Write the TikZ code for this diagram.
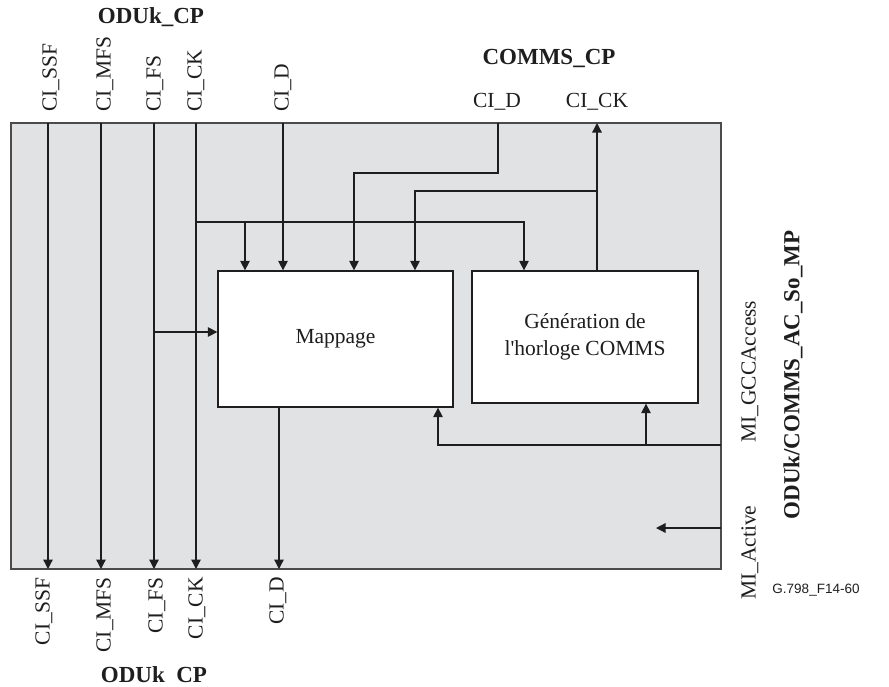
\documentclass[tikz,border=0pt]{standalone}
\usepackage{fontspec}
\setmainfont{Liberation Serif}
\newfontfamily\figsans{Liberation Sans}
\usetikzlibrary{arrows.meta}
\definecolor{panel}{RGB}{225,226,228}
\definecolor{ink}{RGB}{30,30,30}
\tikzset{
  wire/.style={draw=ink, line width=1.3pt},
  arr/.style={wire, -{Triangle[length=9.5pt,width=9.5pt]}},
  blk/.style={draw=ink, line width=1.3pt, fill=white, rectangle, inner sep=0pt},
  lbl/.style={font=\fontsize{21.5}{25}\selectfont, inner sep=0pt, text=ink},
  vlbl/.style={lbl, rotate=90},
  blbl/.style={font=\fontsize{23}{27}\selectfont\bfseries, inner sep=0pt, text=ink},
}
\begin{document}
\begin{tikzpicture}[x=1pt,y=-1pt]
\useasboundingbox (0,0) rectangle (889,686);
% frame
\node[draw=ink!80, line width=1.5pt, fill=panel, minimum width=710pt, minimum height=446pt, inner sep=0pt] (frame) at (366,346) {};
% blocks
\node[blk, minimum width=235pt, minimum height=136pt, lbl] (map) at (335.5,339) {Mappage};
\node[blk, minimum width=226pt, minimum height=132pt, lbl, align=center] (gen) at (585,337) {Génération de\\[2pt]l\textquotesingle horloge COMMS};

% coordinates on frame
\foreach \n/\x in {ssf/48, mfs/101, fs/154, ck/196, dt/283, cd/498, cc/597} {
  \coordinate (\n T) at (\x,123);
}
\foreach \n/\x in {ssf/48, mfs/101, fs/154, ck/196, db/279} {
  \coordinate (\n B) at (\x,569);
}
\coordinate (gccR) at (721,445);
\coordinate (actR) at (721,528);
\coordinate (actE) at (656,528);

% through signals
\draw[arr] (ssfT) -- (ssfB);
\draw[arr] (mfsT) -- (mfsB);
\draw[arr] (fsT) -- (fsB);
\draw[arr] (ckT) -- (ckB);
% CI_FS to Mappage
\draw[arr] (154,332) -- (map.west |- 0,332);
% CI_CK branch
\draw[arr] (196,222) -- (524,222) -- (gen.north -| 524,0);
\draw[arr] (245,222) -- (map.north -| 245,0);
% CI_D in
\draw[arr] (dtT) -- (map.north -| dtT);
% COMMS CI_D
\draw[arr] (cdT) -- (498,173) -- (354,173) -- (map.north -| 354,0);
% generated clock
\draw[arr] (gen.north -| ccT) -- (ccT);
\draw[arr] (597,191) -- (415,191) -- (map.north -| 415,0);
% CI_D out
\draw[arr] (map.south -| dbB) -- (dbB);
% MI_GCCAccess
\draw[arr] (gccR) -- (438,445) -- (map.south -| 438,0);
\draw[arr] (646,445) -- (gen.south -| 646,0);
% MI_Active
\draw[arr] (actR) -- (actE);

% top labels
\node[vlbl, anchor=west] (tssf) at (51,112) {CI\_SSF};
\node[vlbl, anchor=west] (tmfs) at (105,112) {CI\_MFS};
\node[vlbl, anchor=west] (tfs) at (155,112) {CI\_FS};
\node[vlbl, anchor=west] (tck) at (196,112) {CI\_CK};
\node[vlbl, anchor=west] (td) at (283,112) {CI\_D};
\node[blbl] (topcp) at (151,17) {ODUk\_CP};
\node[blbl] (commscp) at (549,58) {COMMS\_CP};
\node[lbl] (cdl) at (497,102) {CI\_D};
\node[lbl] (ccl) at (597,102) {CI\_CK};
% bottom labels
\node[vlbl, anchor=east] (bssf) at (44,577) {CI\_SSF};
\node[vlbl, anchor=east] (bmfs) at (105,577) {CI\_MFS};
\node[vlbl, anchor=east] (bfs) at (157,577) {CI\_FS};
\node[vlbl, anchor=east] (bck) at (197,577) {CI\_CK};
\node[vlbl, anchor=east] (bd) at (278,577) {CI\_D};
\node[blbl] (botcp) at (154,676) {ODUk\phantom{\_}CP};
% right labels
\node[vlbl, anchor=west] (gcc) at (750,443) {MI\_GCCAccess};
\node[vlbl, anchor=west] (act) at (750,600) {MI\_Active};
\node[blbl, rotate=90] (mp) at (793,375) {ODUk/COMMS\_AC\_So\_MP};
\node[font=\figsans\fontsize{13.5}{16}\selectfont, inner sep=0pt, text=ink] (fig) at (816,590) {G.798\_F14-60};
\end{tikzpicture}
\end{document}
